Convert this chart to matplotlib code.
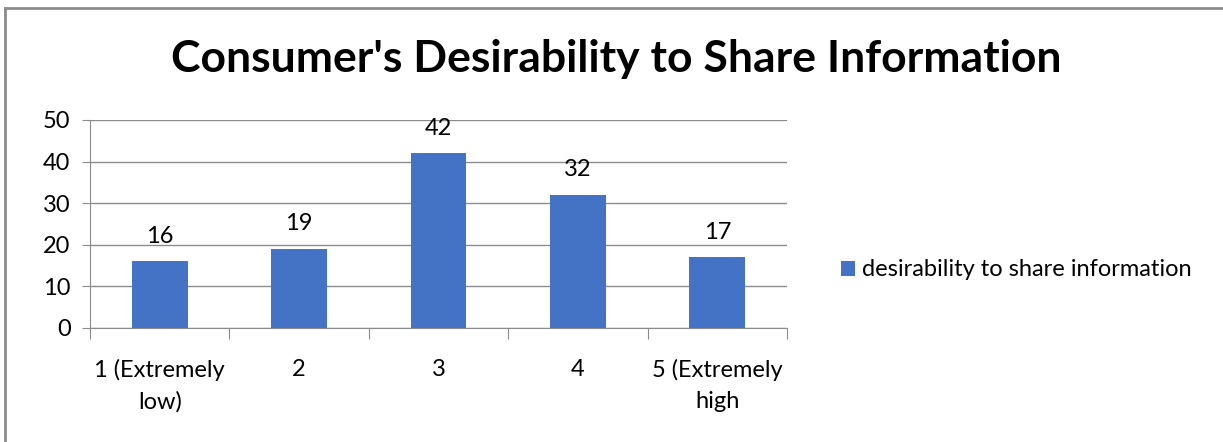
import matplotlib.pyplot as plt
import numpy as np
from matplotlib.lines import Line2D

categories = ["1 (Extremely\nlow)", "2", "3", "4", "5 (Extremely\nhigh"]
values = [16, 19, 42, 32, 17]
series_name = "desirability to share information"

plt.rcParams['font.family'] = ['Lato', 'DejaVu Sans']

W, H = 1223, 442
fig = plt.figure(figsize=(W / 100, H / 100), dpi=100)
ax = fig.add_axes([90 / W, 1 - 328 / H, (787 - 90) / W, (328 - 120) / H])

x = np.arange(len(values))
bars = ax.bar(x, values, width=0.4, color="#4472C4", label=series_name, zorder=3)
for xi, v in zip(x, values):
    ax.text(xi, v + 3.5, str(v), ha="center", va="bottom", fontsize=17, color="black")

ax.set_xlim(-0.5, len(values) - 0.5)
ax.set_ylim(0, 50)
ax.set_yticks(range(0, 51, 10))
ax.yaxis.grid(True, color="#8c8c8c", linewidth=1, zorder=0)
ax.tick_params(axis="y", labelsize=17, length=6, color="#8c8c8c", pad=8)

# category labels at centres, tick marks between categories
ax.set_xticks(np.arange(-0.5, len(values), 1))
ax.set_xticklabels([])
ax.tick_params(axis="x", length=8, color="#8c8c8c")
for xi, c in zip(x, categories):
    ax.text(xi, -7.5, c, ha="center", va="top", fontsize=17, linespacing=1.55)

for s in ["top", "right"]:
    ax.spines[s].set_visible(False)
ax.spines["left"].set_color("#8c8c8c")
ax.spines["bottom"].set_color("#8c8c8c")

fig.text(616 / W, 1 - 59 / H, "Consumer's Desirability to Share Information",
         ha="center", va="center", fontsize=32, fontweight="bold")

fig.legend(handles=[bars], labels=[series_name], loc="center left",
           bbox_to_anchor=(820 / W, 1 - 270 / H), frameon=False, fontsize=17,
           handlelength=0.6, handleheight=0.6, handletextpad=0.3)

# outer chart border (only left and top visible in the crop)
fig.add_artist(Line2D([5 / W, 5 / W], [0, 1 - 8 / H], transform=fig.transFigure,
                      color="#8c8c8c", linewidth=2))
fig.add_artist(Line2D([5 / W, 1], [1 - 8 / H, 1 - 8 / H], transform=fig.transFigure,
                      color="#8c8c8c", linewidth=2))

fig.savefig("out.png", dpi=100)
